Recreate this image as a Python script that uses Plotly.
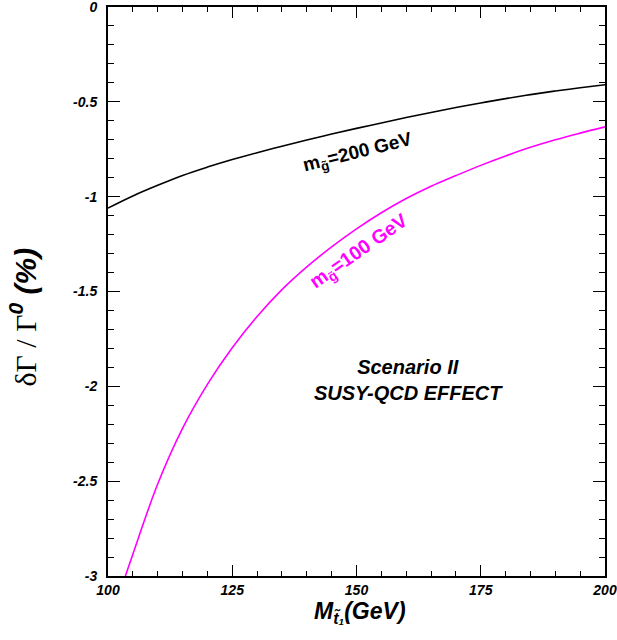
import plotly.graph_objects as go

# Stop mass (GeV) and relative correction (%) for the two gluino masses
mst_g200 = [100, 105, 110, 115, 120, 125, 130, 135, 140, 145, 150,
            155, 160, 165, 170, 175, 180, 185, 190, 195, 200]
dgam_g200 = [-1.06, -0.996, -0.94, -0.888, -0.844, -0.804, -0.768, -0.734, -0.701,
             -0.67, -0.64, -0.612, -0.583, -0.556, -0.53, -0.506, -0.483, -0.462,
             -0.443, -0.426, -0.41]

mst_g100 = [103.5, 105, 110, 115, 120, 125, 130, 135, 140, 145, 150,
            155, 160, 165, 170, 175, 180, 185, 190, 195, 200]
dgam_g100 = [-3.0, -2.885, -2.515, -2.222, -1.99, -1.797, -1.632, -1.49, -1.37, -1.265,
             -1.17, -1.085, -1.01, -0.945, -0.889, -0.835, -0.785, -0.74, -0.70,
             -0.665, -0.632]

x_ticks = [100, 125, 150, 175, 200]
y_ticks = [0, -0.5, -1, -1.5, -2, -2.5, -3]
y_ticktext = ["0", "-0.5", "-1", "-1.5", "-2", "-2.5", "-3"]

FONT = "Liberation Sans, Arial, sans-serif"

fig = go.Figure()
fig.add_trace(go.Scatter(x=mst_g200, y=dgam_g200, mode="lines",
                         line=dict(color="black", width=1.6, shape="spline"),
                         showlegend=False))
fig.add_trace(go.Scatter(x=mst_g100, y=dgam_g100, mode="lines",
                         line=dict(color="#ff00ff", width=1.6, shape="spline"),
                         showlegend=False))

tickfont = dict(family=FONT, size=14, color="black", weight="bold", style="italic")

fig.update_xaxes(range=[100, 200], tickvals=x_ticks, ticks="inside", ticklen=11,
                 tickwidth=1, tickcolor="black", showline=True, linecolor="black",
                 linewidth=2, mirror="allticks", showgrid=False, zeroline=False,
                 tickfont=tickfont, automargin=False, ticklabeloverflow="allow",
                 minor=dict(dtick=5, ticks="inside", ticklen=5, tickcolor="black",
                            tickwidth=1, showgrid=False))
fig.update_yaxes(range=[-3, 0], tickvals=y_ticks, ticktext=y_ticktext, ticks="inside",
                 ticklen=12, tickwidth=1, tickcolor="black", showline=True,
                 linecolor="black", linewidth=2, mirror="allticks", showgrid=False,
                 zeroline=False, tickfont=tickfont, ticklabelstandoff=6,
                 automargin=False, ticklabeloverflow="allow",
                 minor=dict(dtick=0.1, ticks="inside", ticklen=6, tickcolor="black",
                            tickwidth=1, showgrid=False))

annotations = [
    dict(x=150.3, y=-0.77, text="m<sub>g̃</sub>=200 GeV", textangle=-14,
         font=dict(family=FONT, size=19, color="black", weight="bold")),
    dict(x=150.6, y=-1.29, text="m<sub>g̃</sub>=100 GeV", textangle=-35,
         font=dict(family=FONT, size=19.5, color="#ff00ff", weight="bold")),
    dict(x=160.4, y=-1.967, text="Scenario II<br>SUSY-QCD EFFECT",
         font=dict(family=FONT, size=20, color="black", weight="bold", style="italic")),
    dict(x=0.507, y=-0.064, xref="paper", yref="paper",
         text="M<sub>t̃₁</sub>(GeV)",
         font=dict(family=FONT, size=23, color="black", weight="bold", style="italic")),
    dict(x=-0.17, y=0.455, xref="paper", yref="paper", textangle=-90,
         text="<span style=\"font-family:'Liberation Serif', serif; font-weight:normal; font-style:normal\">δΓ / Γ</span><sup>0</sup> (%)",
         font=dict(family=FONT, size=30, color="black", weight="bold", style="italic")),
]
for a in annotations:
    a.setdefault("showarrow", False)
    a.setdefault("xanchor", "center")
    a.setdefault("yanchor", "middle")
fig.update_layout(annotations=annotations)

fig.update_layout(width=617, height=640, margin=dict(l=108, r=12, t=7, b=64),
                  plot_bgcolor="white", paper_bgcolor="white")

fig.write_html("out.html")
